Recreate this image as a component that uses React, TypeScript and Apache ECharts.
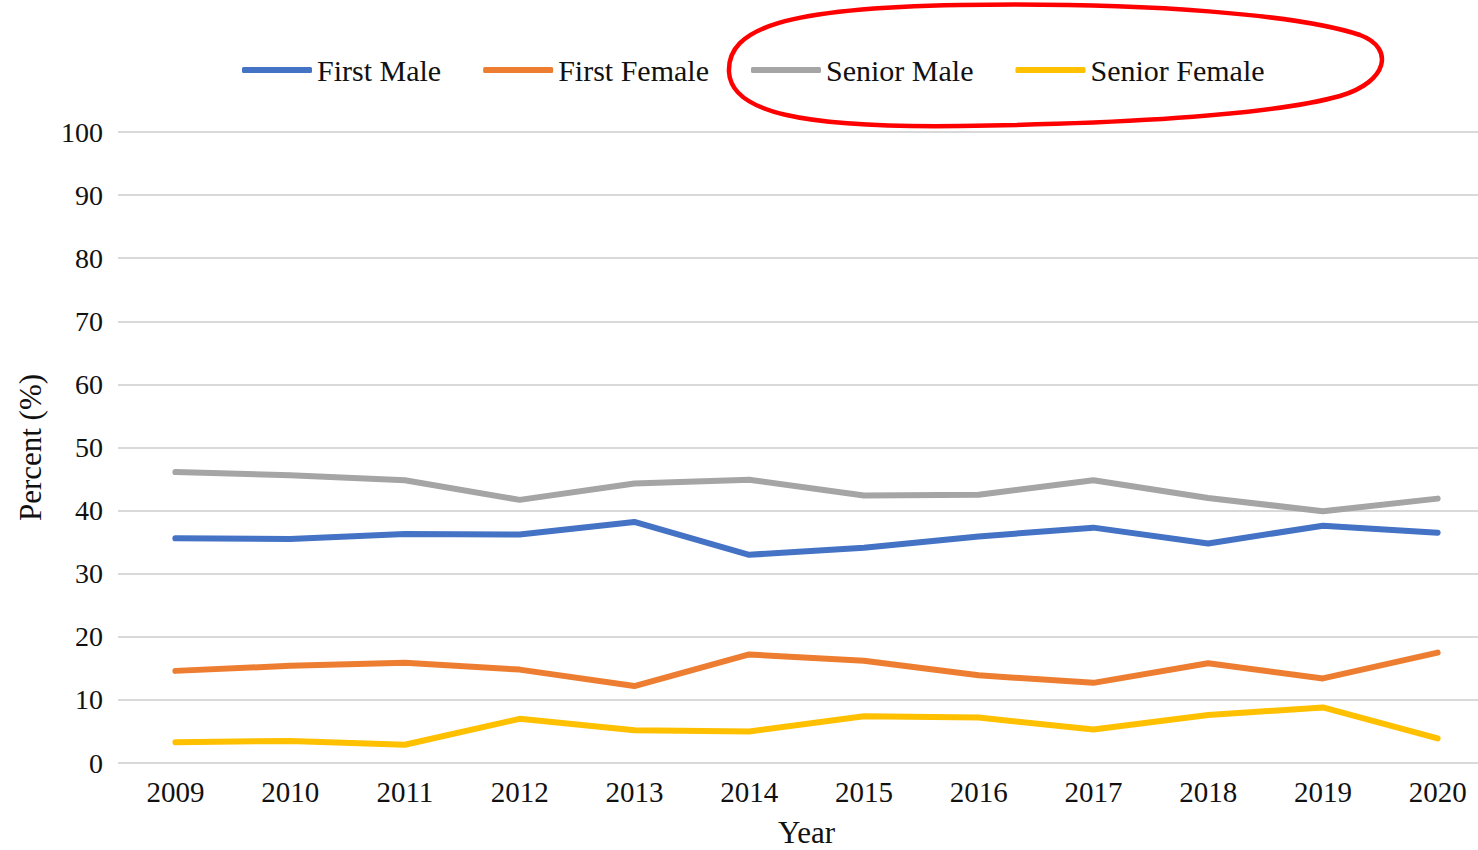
import React, { useEffect, useRef } from "react";
import * as echarts from "echarts";

const years = ["2009", "2010", "2011", "2012", "2013", "2014", "2015", "2016", "2017", "2018", "2019", "2020"];
const firstMale = [35.6, 35.5, 36.3, 36.2, 38.2, 33.0, 34.1, 35.9, 37.3, 34.8, 37.6, 36.5];
const firstFemale = [14.6, 15.4, 15.9, 14.8, 12.2, 17.2, 16.2, 13.9, 12.7, 15.8, 13.4, 17.5];
const seniorMale = [46.1, 45.6, 44.8, 41.7, 44.3, 44.9, 42.4, 42.5, 44.8, 42.0, 39.9, 41.9];
const seniorFemale = [3.3, 3.5, 2.9, 7.0, 5.2, 5.0, 7.4, 7.2, 5.3, 7.6, 8.8, 3.9];

const seriesNames = ["First Male", "First Female", "Senior Male", "Senior Female"];
const seriesColors = ["#4472C4", "#ED7D31", "#A5A5A5", "#FFC000"];
const seriesData = [firstMale, firstFemale, seniorMale, seniorFemale];

const highlightPath =
  "M 729 72 C 727 28 785 8 960 5 C 1150 2 1300 15 1360 35 C 1395 48 1388 82 1340 96 C 1260 118 1100 124 960 126 C 800 128 731 112 729 72 Z";

const FONT = "Liberation Serif";

export default function App() {
  const ref = useRef<HTMLDivElement>(null);
  useEffect(() => {
    document.body.style.margin = "0";
    if (!ref.current) return;
    echarts.graphic.registerShape("highlightOval", echarts.graphic.extendPath(highlightPath, {}) as any);
    const chart = echarts.init(ref.current, undefined, { renderer: "svg" });
    const legendText = { fontFamily: FONT, fontSize: 30, color: "#111" };
    chart.setOption({
      animation: false,
      backgroundColor: "#ffffff",
      textStyle: { fontFamily: FONT, color: "#000" },
      legend: {
        left: 237,
        top: 50,
        icon: "roundRect",
        itemWidth: 70,
        itemHeight: 6,
        itemGap: 42,
        textStyle: legendText,
        formatter: "{t|{name}}",
        data: seriesNames.map((name) => ({
          name,
          textStyle: { ...legendText, rich: { t: legendText } },
        })),
      },
      grid: { left: 118, right: -17, top: 132, bottom: 87, outerBoundsMode: "none", containLabel: false },
      xAxis: {
        type: "category",
        data: years,
        boundaryGap: true,
        axisLine: { show: false },
        axisTick: { show: false },
        axisLabel: { fontFamily: FONT, fontSize: 29, color: "#111", margin: 14 },
        name: "Year",
        nameLocation: "middle",
        nameGap: 54,
        nameTextStyle: { fontFamily: FONT, fontSize: 31, color: "#111" },
      },
      yAxis: {
        type: "value",
        min: 0,
        max: 100,
        interval: 10,
        axisLine: { show: false },
        axisTick: { show: false },
        axisLabel: { fontFamily: FONT, fontSize: 28, color: "#111", margin: 15 },
        splitLine: { lineStyle: { color: "#d9d9d9", width: 2 } },
        name: "Percent (%)",
        nameLocation: "middle",
        nameGap: 72,
        nameRotate: 90,
        nameTextStyle: { fontFamily: FONT, fontSize: 31, color: "#111" },
      },
      series: seriesNames.map((name, i) => ({
        name,
        type: "line",
        data: seriesData[i],
        symbol: "none",
        color: seriesColors[i],
        lineStyle: { color: seriesColors[i], width: 6, cap: "round", join: "round" },
      })),
      graphic: [
        {
          type: "highlightOval",
          x: 0,
          y: 0,
          scaleX: 1,
          scaleY: 1,
          z: 100,
          style: { fill: "none", stroke: "#FF0000", lineWidth: 4.5 },
        },
      ],
    });
    return () => chart.dispose();
  }, []);
  return <div ref={ref} style={{ width: 1478, height: 850, position: "absolute", left: 0, top: 0 }} />;
}
